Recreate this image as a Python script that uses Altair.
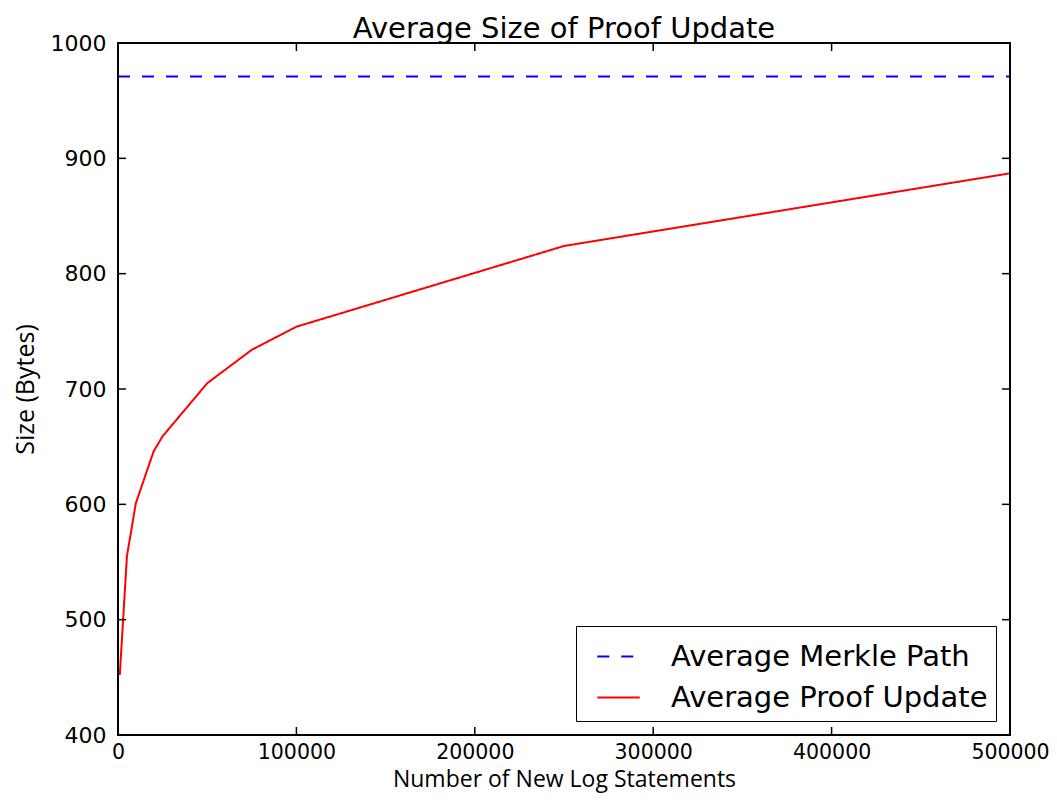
import altair as alt
import pandas as pd

# Data
proof_x = [1000, 5000, 10000, 20000, 25000, 50000, 75000, 100000, 250000, 500000]
proof_y = [452, 555, 601, 646, 659, 705, 734, 754, 824, 887]
merkle_x = [0, 500000]
merkle_y = [971, 971]
series_names = ["Average Merkle Path", "Average Proof Update"]
x_ticks = [0, 100000, 200000, 300000, 400000, 500000]
y_ticks = [400, 500, 600, 700, 800, 900, 1000]

W, H = 892, 692
TL = 8

lines = pd.DataFrame(
    [{"x": a, "y": b, "series": series_names[0]} for a, b in zip(merkle_x, merkle_y)]
    + [{"x": a, "y": b, "series": series_names[1]} for a, b in zip(proof_x, proof_y)]
)
xt = pd.DataFrame({"v": x_ticks})
yt = pd.DataFrame({"v": y_ticks})
frame_df = pd.DataFrame({"k": [0]})

xscale = alt.Scale(domain=[0, 500000], nice=False, zero=False)
yscale = alt.Scale(domain=[400, 1000], nice=False, zero=False)

line_chart = alt.Chart(lines).mark_line(strokeWidth=2).encode(
    x=alt.X("x:Q", scale=xscale,
            axis=alt.Axis(title="Number of New Log Statements", values=x_ticks,
                          ticks=False, domain=False, grid=False, format="d",
                          labelFontSize=20.5, labelFont="DejaVu Sans", labelColor="#000",
                          labelPadding=7, labelFlush=False,
                          titleFont="Open Sans", titleFontSize=23, titleFontWeight="normal",
                          titleColor="#000", titlePadding=6)),
    y=alt.Y("y:Q", scale=yscale,
            axis=alt.Axis(title="Size (Bytes)", values=y_ticks,
                          ticks=False, domain=False, grid=False, format="d",
                          labelFontSize=22, labelFont="DejaVu Sans", labelColor="#000",
                          labelPadding=12, labelFlush=False,
                          titleFont="Open Sans", titleFontSize=25, titleFontWeight="normal",
                          titleColor="#000", titlePadding=12)),
    color=alt.Color("series:N",
                    scale=alt.Scale(domain=series_names, range=["#0000ff", "#ff0000"]),
                    legend=alt.Legend(title=None, orient="bottom-right", offset=14,
                                      symbolType="stroke", symbolSize=1800,
                                      symbolStrokeWidth=2, labelFontSize=29,
                                      labelFont="DejaVu Sans", labelColor="#000",
                                      labelOffset=30, labelLimit=600, rowPadding=3,
                                      padding=8, symbolOffset=12,
                                      strokeColor="#000", fillColor="#fff",
                                      cornerRadius=0)),
    strokeDash=alt.StrokeDash("series:N",
                              scale=alt.Scale(domain=series_names, range=[[12, 12], [1, 0]]),
                              legend=alt.Legend(title=None)),
    order=alt.Order("x:Q"),
)

frame = alt.Chart(frame_df).mark_rect(fill=None, stroke="#000", strokeWidth=2).encode(
    x=alt.value(0), x2=alt.value(W), y=alt.value(0), y2=alt.value(H))

bottom_ticks = alt.Chart(xt).mark_rule(color="#000", strokeWidth=1.5).encode(
    x=alt.X("v:Q", scale=xscale), y=alt.value(H), y2=alt.value(H - TL))
top_ticks = alt.Chart(xt).mark_rule(color="#000", strokeWidth=1.5).encode(
    x=alt.X("v:Q", scale=xscale), y=alt.value(0), y2=alt.value(TL))
left_ticks = alt.Chart(yt).mark_rule(color="#000", strokeWidth=1.5).encode(
    y=alt.Y("v:Q", scale=yscale), x=alt.value(0), x2=alt.value(TL))
right_ticks = alt.Chart(yt).mark_rule(color="#000", strokeWidth=1.5).encode(
    y=alt.Y("v:Q", scale=yscale), x=alt.value(W), x2=alt.value(W - TL))

chart = alt.layer(line_chart, bottom_ticks, top_ticks, left_ticks, right_ticks, frame).properties(
    width=W, height=H,
    autosize=alt.AutoSizeParams(type="none"),
    padding={"left": 110, "top": 35, "right": 39, "bottom": 60},
    title=alt.TitleParams("Average Size of Proof Update", fontSize=29,
                          font="DejaVu Sans", fontWeight="normal", color="#000",
                          offset=-12, anchor="middle"),
).configure_view(stroke=None).configure(background="#fff")

chart.save("out.html", embed_options={"renderer": "svg", "actions": False})
